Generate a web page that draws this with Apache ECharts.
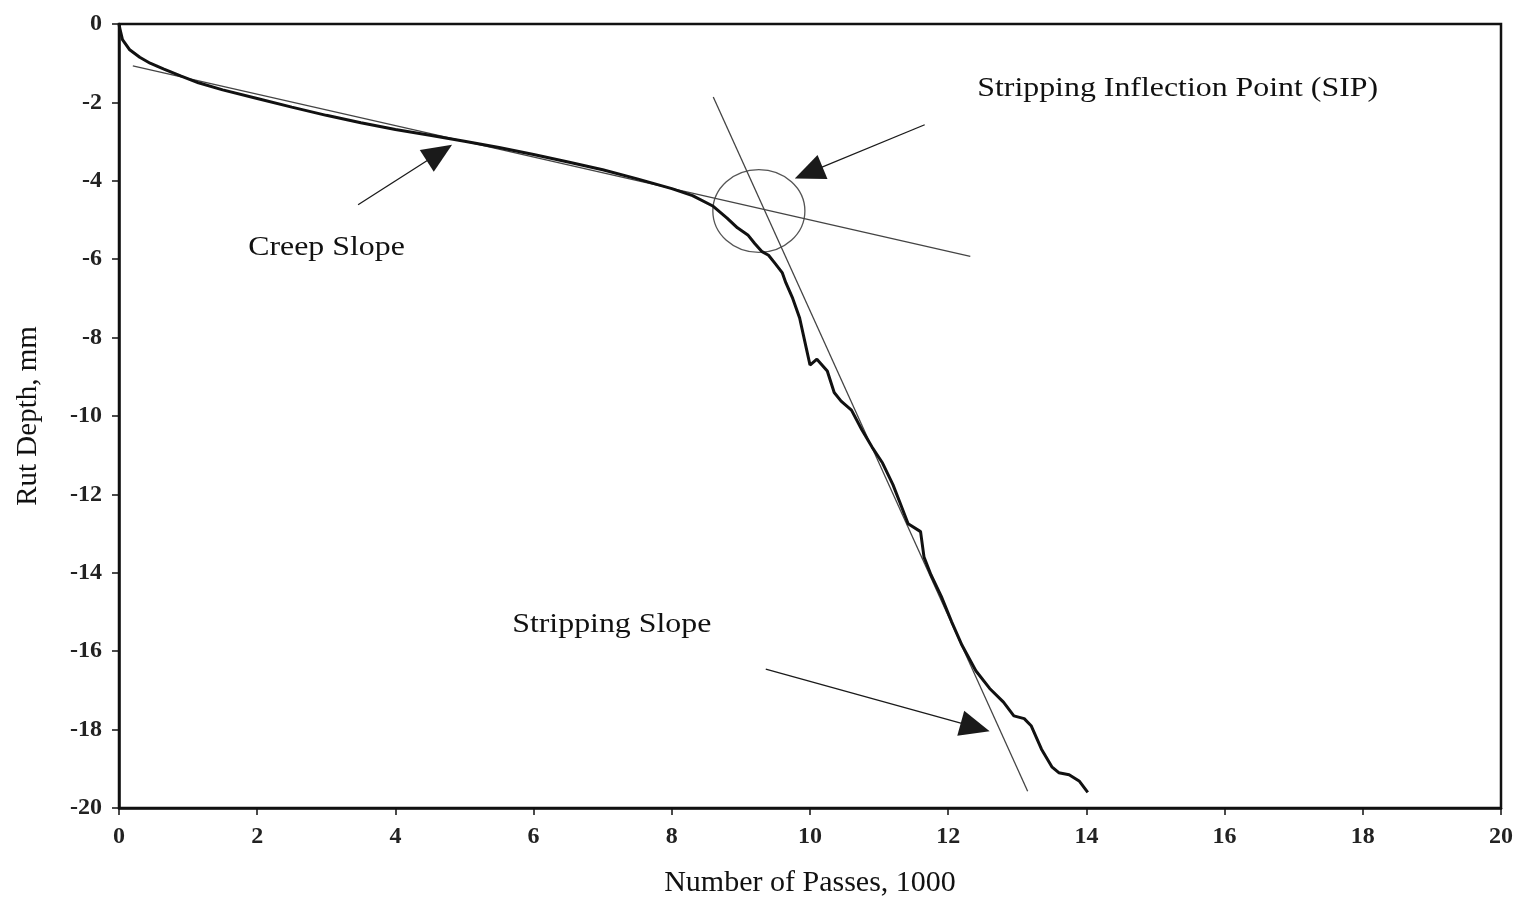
<!DOCTYPE html>
<html>
<head>
<meta charset="utf-8">
<title>Rut Depth vs Number of Passes</title>
<script src="https://cdn.jsdelivr.net/npm/echarts@6/dist/echarts.min.js"></script>
<style>
  html, body { margin: 0; padding: 0; background: #fff; }
  #chart { width: 1522px; height: 903px; }
</style>
</head>
<body>
<div id="chart"></div>
<script>
// Measured rut depth curve: [passes (thousands), rut depth (mm)]
const rutCurve = [
  [0, 0], [0.01, -0.1], [0.05, -0.4], [0.15, -0.65], [0.3, -0.85], [0.45, -1.0],
  [0.65, -1.15], [0.9, -1.33], [1.15, -1.5], [1.5, -1.68], [2.0, -1.9],
  [2.5, -2.12], [3.0, -2.33], [3.5, -2.52], [4.0, -2.69], [4.5, -2.84],
  [5.0, -2.99], [5.5, -3.15], [6.0, -3.33], [6.5, -3.52], [7.0, -3.72],
  [7.5, -3.95], [8.0, -4.2], [8.3, -4.38], [8.6, -4.65], [8.8, -4.95],
  [8.95, -5.2], [9.1, -5.38], [9.2, -5.6], [9.3, -5.8], [9.4, -5.9],
  [9.5, -6.12], [9.6, -6.35], [9.65, -6.6], [9.75, -7.0], [9.85, -7.5],
  [9.95, -8.3], [10.0, -8.7], [10.1, -8.55], [10.25, -8.85], [10.35, -9.4],
  [10.45, -9.62], [10.6, -9.85], [10.75, -10.35], [10.9, -10.8], [11.05, -11.2],
  [11.2, -11.75], [11.3, -12.2], [11.42, -12.75], [11.6, -12.95], [11.65, -13.6],
  [11.75, -14.05], [11.9, -14.6], [12.05, -15.25], [12.2, -15.85], [12.4, -16.5],
  [12.6, -16.95], [12.8, -17.3], [12.95, -17.65], [13.1, -17.72], [13.2, -17.9],
  [13.35, -18.5], [13.5, -18.95], [13.6, -19.1], [13.75, -19.15], [13.9, -19.32],
  [14.02, -19.6]
];

// Tangent lines fitted to the two regimes
const creepSlopeLine = [[0.2, -1.07], [12.32, -5.93]];
const strippingSlopeLine = [[8.6, -1.86], [13.15, -19.57]];

// Annotation arrows: [start, tip]
const creepArrow = [[3.46, -4.61], [4.82, -3.08]];
const sipArrow = [[11.66, -2.57], [9.78, -3.94]];
const strippingArrow = [[9.36, -16.46], [12.6, -18.04]];

// Annotation labels: [text, x, y] (left edge, vertical middle)
const annotations = [
  ['Creep Slope', 1.87, -5.7],
  ['Stripping Inflection Point (SIP)', 12.42, -1.65],
  ['Stripping Slope', 5.69, -15.32]
];

// Circle marking the inflection point: centre and radii in data units
const sipCircle = { center: [9.26, -4.77], rx: 0.666, ry: 1.056 };

const xTicks = { min: 0, max: 20, step: 2 };
const yTicks = { min: -20, max: 0, step: 2 };

const FONT = '"Liberation Serif", "Times New Roman", serif';
const INK = '#111';
const HEAD_LEN = 30;   // arrow head length, px
const HEAD_W = 26;     // arrow head width, px

const chart = echarts.init(document.getElementById('chart'));

const axisCommon = {
  type: 'value',
  splitLine: { show: false },
  axisLine: { onZero: false, lineStyle: { color: INK, width: 2.5 } },
  axisTick: { show: true, length: 7, lineStyle: { color: INK, width: 1.5 } },
  axisLabel: { fontFamily: FONT, fontSize: 24, fontWeight: 'bold', color: '#222', margin: 17 }
};

chart.setOption({
  backgroundColor: '#fff',
  animation: false,
  grid: {
    left: 119, right: 21, top: 24, bottom: 93,
    show: true, borderColor: INK, borderWidth: 2.5, backgroundColor: 'transparent'
  },
  xAxis: Object.assign({}, axisCommon, {
    position: 'bottom',
    min: xTicks.min, max: xTicks.max, interval: xTicks.step,
    name: 'Number of Passes, 1000',
    nameLocation: 'middle', nameGap: 60,
    nameTextStyle: { fontFamily: FONT, fontSize: 30, color: INK }
  }),
  yAxis: Object.assign({}, axisCommon, {
    position: 'left',
    min: yTicks.min, max: yTicks.max, interval: yTicks.step,
    name: 'Rut Depth, mm',
    nameLocation: 'middle', nameGap: 76, nameRotate: 90,
    nameTextStyle: { fontFamily: FONT, fontSize: 29, color: INK }
  }),
  series: [
    {
      name: 'Creep Slope', type: 'line', data: creepSlopeLine,
      symbol: 'none', silent: true,
      lineStyle: { color: '#444', width: 1.3 }, z: 2
    },
    {
      name: 'Stripping Slope', type: 'line', data: strippingSlopeLine,
      symbol: 'none', silent: true,
      lineStyle: { color: '#444', width: 1.3 }, z: 2
    },
    {
      name: 'Rut Depth', type: 'line', data: rutCurve,
      symbol: 'none',
      lineStyle: { color: INK, width: 3 }, z: 3
    }
  ]
});

// Arrows, text labels and the inflection circle, all placed from data coordinates
function place() {
  const toPx = p => chart.convertToPixel({ gridIndex: 0 }, p);
  const fromPx = p => chart.convertFromPixel({ gridIndex: 0 }, p);

  // The triangle symbol is centred on the line end, so pull the end back
  // by half the head length to put the point exactly on the tip.
  const arrowPair = pair => {
    const a = toPx(pair[0]);
    const b = toPx(pair[1]);
    const dx = b[0] - a[0], dy = b[1] - a[1];
    const len = Math.hypot(dx, dy);
    const end = [b[0] - dx / len * HEAD_LEN / 2, b[1] - dy / len * HEAD_LEN / 2];
    return [{ coord: pair[0] }, { coord: fromPx(end) }];
  };

  const c = toPx(sipCircle.center);
  const edgeX = toPx([sipCircle.center[0] + sipCircle.rx, sipCircle.center[1]]);
  const edgeY = toPx([sipCircle.center[0], sipCircle.center[1] + sipCircle.ry]);
  const rx = edgeX[0] - c[0];
  const ry = c[1] - edgeY[1];

  const graphics = annotations.map(a => {
    const p = toPx([a[1], a[2]]);
    return {
      type: 'text', x: p[0], y: p[1], scaleX: 1.18,
      style: {
        text: a[0], fontFamily: FONT, fontSize: 27, fill: INK,
        textAlign: 'left', textVerticalAlign: 'middle'
      },
      silent: true
    };
  });
  graphics.push({
    type: 'circle', x: c[0], y: c[1], scaleY: ry / rx,
    shape: { cx: 0, cy: 0, r: rx },
    style: { fill: 'none', stroke: '#555', lineWidth: 1.3 },
    silent: true
  });

  chart.setOption({
    graphic: graphics,
    series: [{}, {}, {
      markLine: {
        silent: true,
        animation: false,
        symbol: ['none', 'triangle'],
        symbolSize: [HEAD_W, HEAD_LEN],
        label: { show: false },
        lineStyle: { color: '#1a1a1a', width: 1.3, type: 'solid' },
        data: [arrowPair(creepArrow), arrowPair(sipArrow), arrowPair(strippingArrow)]
      }
    }]
  });
}
place();
</script>
</body>
</html>
